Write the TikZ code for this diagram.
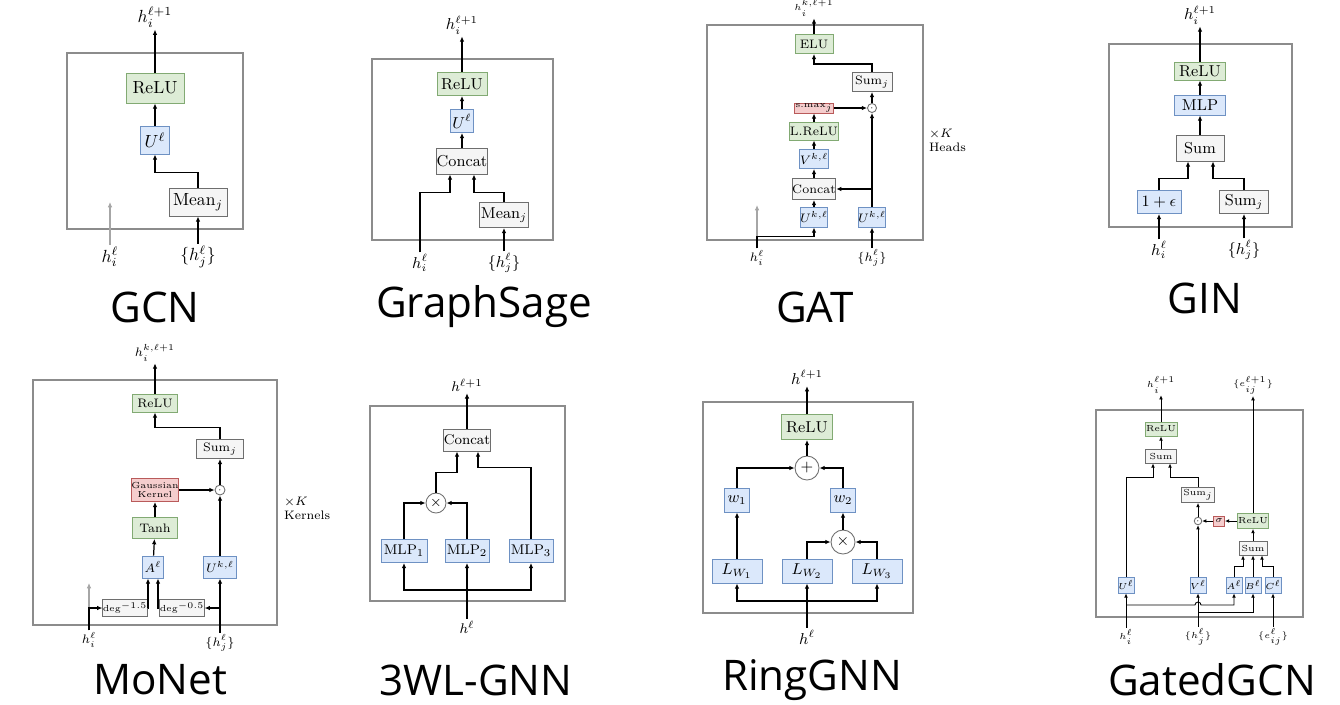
\documentclass[tikz,border=0pt]{standalone}
\usepackage{fontspec}
\newfontfamily\ttlfont{Open Sans}
\usetikzlibrary{arrows.meta}
\definecolor{grnfill}{RGB}{221,236,214}
\definecolor{grnline}{RGB}{130,170,115}
\definecolor{blufill}{RGB}{219,232,251}
\definecolor{bluline}{RGB}{110,145,195}
\definecolor{redfill}{RGB}{245,205,205}
\definecolor{redline}{RGB}{185,90,90}
\definecolor{gryfill}{RGB}{245,245,245}
\definecolor{gryline}{RGB}{110,110,110}
\begin{document}
\begin{tikzpicture}[x=0.02cm, y=-0.02cm, every node/.style={inner sep=1pt}]
\tikzset{
  sz/.style 2 args={minimum width=#1*0.02cm, minimum height=#2*0.02cm},
  box/.style={draw, line width=0.5pt, inner sep=0pt},
  grn/.style={box, draw=grnline, fill=grnfill},
  blu/.style={box, draw=bluline, fill=blufill},
  gry/.style={box, draw=gryline, fill=gryfill},
  rd/.style={box, draw=redline, fill=redfill},
  op/.style={circle, draw=gryline, fill=white, line width=0.5pt, inner sep=0pt},
  arr/.style={-{Latex[length=3pt,width=2.6pt]}, line width=0.7pt},
  garr/.style={arr, draw=black!35},
  frm/.style={draw=black!45, line width=0.7pt},
  ttl/.style={font=\ttlfont\fontsize{24}{28}\selectfont}
}
\useasboundingbox (0,0) rectangle (1340,704);

\begin{scope}[font=\normalsize]
\draw[frm] (67,53) rectangle (243,229);
\node[grn, sz={58}{30}] (gcnrelu) at (155,88) {ReLU};
\node[blu, sz={29}{28}] (gcnu) at (155,140) {$U^{\ell}$};
\node[gry, sz={58}{28}] (gcnmean) at (198,202) {Mean$_j$};
\node (gcnout) at (155,17) {$h_i^{\ell+1}$};
\node (gcnhi) at (110,257) {$h_i^{\ell}$};
\node (gcnhj) at (198,257) {$\{h_j^{\ell}\}$};
\coordinate (gcntip) at (110,202);
\draw[arr] (gcnrelu) -- (gcnout);
\draw[arr] (gcnu) -- (gcnrelu);
\draw[arr] (gcnmean.north) |- ([yshift=-0.36cm]gcnu.south) -- (gcnu.south);
\draw[arr] (gcnhj) -- (gcnmean);
\draw[garr] (gcnhi) -- (gcntip);
\node[ttl] (gcnname) at (155,307) {GCN};
\end{scope}

\begin{scope}[font=\small]
\draw[frm] (372,59) rectangle (553,240);
\node[grn, sz={50}{23}] (sgrelu) at (462,84) {ReLU};
\node[blu, sz={23}{23}] (sgu) at (462,121) {$U^{\ell}$};
\node[gry, sz={50}{26}] (sgconcat) at (462,161) {Concat};
\node[gry, sz={49}{25}] (sgmean) at (504,215) {Mean$_j$};
\node (sgout) at (462,25) {$h_i^{\ell+1}$};
\node (sghi) at (420,263) {$h_i^{\ell}$};
\node (sghj) at (504,263) {$\{h_j^{\ell}\}$};
\draw[arr] (sgrelu) -- (sgout);
\draw[arr] (sgu) -- (sgrelu);
\draw[arr] (sgconcat) -- (sgu);
\draw[arr] (sghi.north) |- ([xshift=-0.24cm,yshift=-0.36cm]sgconcat.south) -- ([xshift=-0.24cm]sgconcat.south);
\draw[arr] (sgmean.north) |- ([xshift=0.24cm,yshift=-0.36cm]sgconcat.south) -- ([xshift=0.24cm]sgconcat.south);
\draw[arr] (sghj) -- (sgmean);
\node[ttl] (sgname) at (484,307) {GraphSage};
\end{scope}

\begin{scope}[font=\scriptsize]
\draw[frm] (707,25) rectangle (923,240);
\node[grn, sz={38}{19}] (gatelu) at (814,44) {ELU};
\node[gry, sz={40}{19}] (gatsum) at (872,82) {Sum$_j$};
\node[op, minimum size=0.18cm, font=\tiny] (gatdot) at (872,108) {$\cdot$};
\node[rd, sz={39}{10}, font=\tiny] (gatsmax) at (814,108) {s.max$_j$};
\node[grn, sz={39}{18}] (gatlrelu) at (814,131) {L.ReLU};
\node[blu, sz={27}{19}] (gatv) at (814,159) {$V^{k,\ell}$};
\node[gry, sz={39}{21}] (gatconcat) at (814,189) {Concat};
\node[blu, sz={27}{20}] (gatul) at (814,217) {$U^{k,\ell}$};
\node[blu, sz={27}{20}] (gatur) at (872,217) {$U^{k,\ell}$};
\node[font=\tiny] (gatout) at (814,8) {$h_i^{k,\ell+1}$};
\node (gathi) at (757,258) {$h_i^{\ell}$};
\node (gathj) at (872,258) {$\{h_j^{\ell}\}$};
\coordinate (gattip) at (757,205);
\node[align=left, anchor=west] (gatk) at (927,140) {$\times K$\\Heads};
\draw[arr] (gatelu) -- (gatout);
\draw[arr] (gatsum.north) |- ([yshift=-0.2cm]gatelu.south) -- (gatelu.south);
\draw[arr] (gatdot) -- (gatsum);
\draw[arr] (gatsmax) -- (gatdot);
\draw[arr] (gatur) -- (gatdot);
\draw[arr] (gatur.north |- gatconcat) -- (gatconcat.east);
\draw[arr] (gatlrelu) -- (gatsmax);
\draw[arr] (gatv) -- (gatlrelu);
\draw[arr] (gatconcat) -- (gatv);
\draw[arr] (gatul) -- (gatconcat);
\draw[garr] (gathi) -- (gattip);
\draw[arr] (gathi.north) |- ([yshift=-0.18cm]gatul.south) -- (gatul.south);
\draw[arr] (gathj) -- (gatur);
\node[ttl] (gatname) at (815,307) {GAT};
\end{scope}

\begin{scope}[font=\small]
\draw[frm] (1109,44) rectangle (1292,227);
\node[grn, sz={51}{18}] (ginrelu) at (1200,71) {ReLU};
\node[blu, sz={51}{20}] (ginmlp) at (1200,105) {MLP};
\node[gry, sz={48}{26}] (ginsum) at (1200,148) {Sum};
\node[blu, sz={44}{23}] (gineps) at (1159,202) {$1+\epsilon$};
\node[gry, sz={49}{23}] (ginsumj) at (1244,202) {Sum$_j$};
\node (ginout) at (1200,15) {$h_i^{\ell+1}$};
\node (ginhi) at (1159,250) {$h_i^{\ell}$};
\node (ginhj) at (1244,250) {$\{h_j^{\ell}\}$};
\draw[arr] (ginrelu) -- (ginout);
\draw[arr] (ginmlp) -- (ginrelu);
\draw[arr] (ginsum) -- (ginmlp);
\draw[arr] (gineps.north) |- ([xshift=-0.24cm,yshift=-0.34cm]ginsum.south) -- ([xshift=-0.24cm]ginsum.south);
\draw[arr] (ginsumj.north) |- ([xshift=0.26cm,yshift=-0.34cm]ginsum.south) -- ([xshift=0.26cm]ginsum.south);
\draw[arr] (ginhi) -- (gineps);
\draw[arr] (ginhj) -- (ginsumj);
\node[ttl] (ginname) at (1205,298) {GIN};
\end{scope}

\begin{scope}[font=\scriptsize]
\draw[frm] (33,380) rectangle (277,625);
\node[grn, sz={45}{18}] (monrelu) at (155,403) {ReLU};
\node[gry, sz={47}{19}] (monsum) at (220,449) {Sum$_j$};
\node[op, minimum size=0.2cm, font=\tiny] (mondot) at (220,490) {$\cdot$};
\node[rd, sz={45}{23}, font=\tiny, align=center] (mongauss) at (155,490) {Gaussian\\[-1pt]Kernel};
\node[grn, sz={45}{21}] (montanh) at (155,528) {Tanh};
\node[blu, sz={21}{22}] (mona) at (153,567) {$A^{\ell}$};
\node[blu, sz={33}{22}] (monu) at (220,567) {$U^{k,\ell}$};
\node[gry, sz={36}{17}, font=\tiny] (mondega) at (125,608) {deg$^{-1.5}$};
\node[gry, sz={36}{17}, font=\tiny] (mondegb) at (182,608) {deg$^{-0.5}$};
\node (monout) at (155,353) {$h_i^{k,\ell+1}$};
\node (monhi) at (89,640) {$h_i^{\ell}$};
\node (monhj) at (220,643) {$\{h_j^{\ell}\}$};
\coordinate (montip) at (89,583);
\node[align=left, anchor=west] (monk) at (282,508) {$\times K$\\Kernels};
\draw[arr] (monrelu) -- (monout);
\draw[arr] (monsum.north) |- ([yshift=-0.3cm]monrelu.south) -- (monrelu.south);
\draw[arr] (mondot) -- (monsum);
\draw[arr] (mongauss) -- (mondot);
\draw[arr] (monu) -- (mondot);
\draw[arr] (montanh) -- (mongauss);
\draw[arr] (mona) -- (montanh);
\draw[garr] (monhi) -- (montip);
\draw[arr] (monhi.north) |- (mondega.west);
\draw[arr] (mondega.east) -| ([xshift=-0.1cm]mona.south);
\draw[arr] (monhj.north |- mondegb) -- (mondegb.east);
\draw[arr] (mondegb.west) -| ([xshift=0.1cm]mona.south);
\draw[arr] (monhj) -- (monu);
\node[ttl] (monname) at (160,680) {MoNet};
\end{scope}

\begin{scope}[font=\footnotesize]
\draw[frm] (370,406) rectangle (565,601);
\node[gry, sz={44}{22}] (wlconcat) at (467,440) {Concat};
\node[op, minimum size=0.4cm] (wltimes) at (436,503) {$\times$};
\node[blu, sz={46}{23}] (wlmlpa) at (404,551) {MLP$_1$};
\node[blu, sz={44}{23}] (wlmlpb) at (467,551) {MLP$_2$};
\node[blu, sz={44}{23}] (wlmlpc) at (531,551) {MLP$_3$};
\node (wlout) at (467,385) {$h^{\ell+1}$};
\node (wlin) at (467,627) {$h^{\ell}$};
\coordinate (wlsplit) at (467,590);
\draw[arr] (wlconcat) -- (wlout);
\draw[arr] (wlmlpa.north) |- (wltimes.west);
\draw[arr] (wlmlpb.north) |- (wltimes.east);
\draw[arr] (wltimes.north) |- ([xshift=-0.2cm,yshift=-0.42cm]wlconcat.south) -- ([xshift=-0.2cm]wlconcat.south);
\draw[arr] (wlmlpc.north) |- ([xshift=0.22cm,yshift=-0.32cm]wlconcat.south) -- ([xshift=0.22cm]wlconcat.south);
\draw[arr] (wlin) -- (wlmlpb);
\draw[arr] (wlsplit) -| (wlmlpa.south);
\draw[arr] (wlsplit) -| (wlmlpc.south);
\node[ttl] (wlname) at (476,680) {3WL-GNN};
\end{scope}

\begin{scope}[font=\small]
\draw[frm] (703,402) rectangle (913,613);
\node[grn, sz={51}{25}] (rgrelu) at (807,427) {ReLU};
\node[op, minimum size=0.48cm] (rgplus) at (807,468) {$+$};
\node[blu, sz={25}{24}] (rgwa) at (737,500) {$w_1$};
\node[blu, sz={25}{24}] (rgwb) at (843,500) {$w_2$};
\node[op, minimum size=0.48cm] (rgtimes) at (843,542) {$\times$};
\node[blu, sz={50}{24}] (rglwa) at (737,571) {$L_{W_1}$};
\node[blu, sz={50}{24}] (rglwb) at (807,571) {$L_{W_2}$};
\node[blu, sz={50}{24}] (rglwc) at (877,571) {$L_{W_3}$};
\node (rgout) at (807,377) {$h^{\ell+1}$};
\node (rgin) at (807,637) {$h^{\ell}$};
\coordinate (rgsplit) at (807,601);
\draw[arr] (rgrelu) -- (rgout);
\draw[arr] (rgplus) -- (rgrelu);
\draw[arr] (rgwa.north) |- (rgplus.west);
\draw[arr] (rgwb.north) |- (rgplus.east);
\draw[arr] (rgtimes) -- (rgwb);
\draw[arr] (rglwb.north) |- (rgtimes.west);
\draw[arr] (rglwc.north) |- (rgtimes.east);
\draw[arr] (rglwa) -- (rgwa);
\draw[arr] (rgin) -- (rglwb);
\draw[arr] (rgsplit) -| (rglwa.south);
\draw[arr] (rgsplit) -| (rglwc.south);
\node[ttl] (rgname) at (812,680) {RingGNN};
\end{scope}

\begin{scope}[font=\tiny, arr/.style={-{Latex[length=2.4pt,width=2.2pt]}, line width=0.5pt}]
\draw[frm] (1096,410) rectangle (1303,617);
\node[grn, sz={32}{14}] (ggrelua) at (1161,429) {ReLU};
\node[gry, sz={31}{14}] (ggsuma) at (1161,456) {Sum};
\node[gry, sz={33}{15}] (ggsumj) at (1198,495) {Sum$_j$};
\node[op, minimum size=0.15cm] (ggdot) at (1198,521) {$\cdot$};
\node[rd, sz={11}{10}] (ggsig) at (1219,521) {$\sigma$};
\node[grn, sz={31}{15}] (ggrelub) at (1253,521) {ReLU};
\node[gry, sz={28}{14}] (ggsumb) at (1253,548) {Sum};
\node[blu, sz={16}{16}] (ggu) at (1126,585) {$U^{\ell}$};
\node[blu, sz={16}{16}] (ggv) at (1198,585) {$V^{\ell}$};
\node[blu, sz={16}{16}] (gga) at (1234,585) {$A^{\ell}$};
\node[blu, sz={16}{16}] (ggb) at (1253,585) {$B^{\ell}$};
\node[blu, sz={16}{16}] (ggc) at (1273,585) {$C^{\ell}$};
\node (ggouth) at (1161,385) {$h_i^{\ell+1}$};
\node (ggoute) at (1253,385) {$\{e_{ij}^{\ell+1}\}$};
\node (gginhi) at (1126,637) {$h_i^{\ell}$};
\node (gginhj) at (1198,637) {$\{h_j^{\ell}\}$};
\node (ggine) at (1273,637) {$\{e_{ij}^{\ell}\}$};
\coordinate (gghopa) at (1126,605);
\coordinate (gghopb) at (1198,612);
\draw[arr] (ggrelua) -- (ggouth);
\draw[arr] (ggsuma) -- (ggrelua);
\draw[arr] (ggu.north) |- ([xshift=-0.16cm,yshift=-0.28cm]ggsuma.south) -- ([xshift=-0.16cm]ggsuma.south);
\draw[arr] (ggsumj.north) |- ([xshift=0.18cm,yshift=-0.28cm]ggsuma.south) -- ([xshift=0.18cm]ggsuma.south);
\draw[arr] (ggdot) -- (ggsumj);
\draw[arr] (ggv) -- (ggdot);
\draw[arr] (ggrelub) -- (ggsig);
\draw[arr] (ggsig) -- (ggdot);
\draw[arr] (ggrelub) -- (ggoute);
\draw[arr] (ggsumb) -- (ggrelub);
\draw[arr] (gga.north) |- ([xshift=-0.2cm,yshift=-0.22cm]ggsumb.south) -- ([xshift=-0.2cm]ggsumb.south);
\draw[arr] (ggb) -- (ggsumb);
\draw[arr] (ggc.north) |- ([xshift=0.18cm,yshift=-0.22cm]ggsumb.south) -- ([xshift=0.18cm]ggsumb.south);
\draw[arr] (gginhi) -- (ggu);
\draw[arr] (gginhj) -- (ggv);
\draw[arr] (ggine) -- (ggc);
\draw[arr] (gghopa) -- ([xshift=-0.06cm]gghopa -| ggv) arc[start angle=180, end angle=0, radius=0.06cm] -| (gga.south);
\draw[arr] (gghopb) -| (ggb.south);
\node[ttl] (ggname) at (1212,680) {GatedGCN};
\end{scope}
\end{tikzpicture}
\end{document}
